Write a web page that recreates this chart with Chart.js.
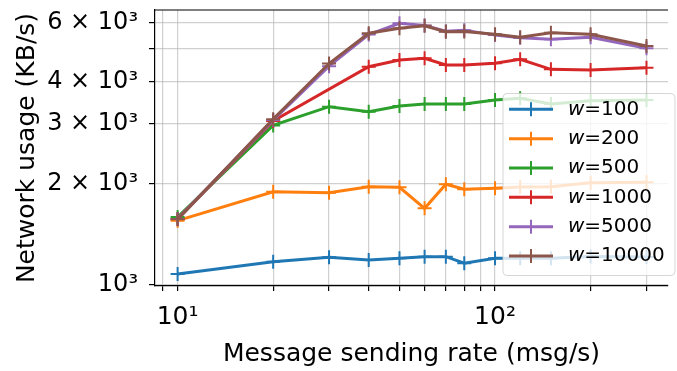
<!DOCTYPE html>
<html lang="en">
<head>
<meta charset="UTF-8">
<title>Network usage vs message sending rate</title>
<script src="https://cdn.jsdelivr.net/npm/chart.js"></script>
<style>
  html, body { margin: 0; padding: 0; background: #fff; }
  #wrap { width: 677px; height: 371px; }
</style>
</head>
<body>
<div id="wrap"><canvas id="chart" width="677" height="371"></canvas></div>
<script>
// data
const rates = [10, 20, 30, 40, 50, 60, 70, 80, 100, 120, 150, 200, 300];
const windowSizes = ['100', '200', '500', '1000', '5000', '10000'];
const colors = ['#1f77b4', '#ff7f0e', '#2ca02c', '#d62728', '#9467bd', '#8c564b'];

const w100   = [1078, 1172, 1208, 1186, 1200, 1213, 1213, 1160, 1200, 1200, 1200, 1215, 1210];
const w200   = [1551, 1890, 1877, 1955, 1947, 1687, 1988, 1921, 1934, 1950, 1955, 2010, 2015];
const w500   = [1590, 2970, 3376, 3263, 3390, 3437, 3437, 3437, 3533, 3573, 3437, 3517, 3533];
const w1000  = [1570, 3060, null, 4435, 4642, 4695, 4484, 4484, 4538, 4664, 4355, 4335, 4402];
const w5000  = [1570, 3080, 4450, 5520, 5960, 5870, 5650, 5690, 5500, 5400, 5346, 5420, 5025];
const w10000 = [1565, 3100, 4530, 5570, 5762, 5860, 5631, 5640, 5530, 5420, 5593, 5530, 5106];
const series = [w100, w200, w500, w1000, w5000, w10000];

const xTicks = [9, 10, 20, 30, 40, 50, 60, 70, 80, 90, 100, 200, 300];
const xTickLabels = { 10: '10¹', 100: '10²' };
const yTicks = [1000, 2000, 3000, 4000, 5000, 6000];
const yTickLabels = { 1000: '10³', 2000: '2 × 10³', 3000: '3 × 10³', 4000: '4 × 10³', 6000: '6 × 10³' };

const FONT = "'DejaVu Sans', sans-serif";
const gridColor = 'rgba(176,176,176,0.6)';

const datasets = series.map((vals, i) => ({
  label: 'w=' + windowSizes[i],
  data: vals,
  borderColor: colors[i],
  backgroundColor: colors[i],
  borderWidth: 3,
  pointStyle: 'cross',
  pointRadius: 7,
  pointBorderWidth: 2,
  pointBorderColor: colors[i],
  spanGaps: true,
  tension: 0,
  order: series.length - i
}));

// top spine
const frame = {
  id: 'frame',
  afterDraw(chart) {
    const { ctx, chartArea: a } = chart;
    ctx.save();
    ctx.strokeStyle = '#000';
    ctx.lineWidth = 1.2;
    ctx.beginPath();
    ctx.moveTo(a.left, a.top);
    ctx.lineTo(a.right, a.top);
    ctx.stroke();
    ctx.restore();
  }
};

// legend box inside the plot, like matplotlib
const innerLegend = {
  id: 'innerLegend',
  afterDraw(chart) {
    const ctx = chart.ctx;
    const bx = 503, by = 93.5, bw = 172, bh = 182, r = 4;
    ctx.save();
    ctx.beginPath();
    ctx.roundRect(bx, by, bw, bh, r);
    ctx.fillStyle = 'rgba(255,255,255,0.8)';
    ctx.fill();
    ctx.strokeStyle = 'rgba(204,204,204,0.8)';
    ctx.lineWidth = 1;
    ctx.stroke();
    const y0 = 109.3, step = 29.35;
    windowSizes.forEach((w, i) => {
      const y = y0 + i * step;
      ctx.strokeStyle = colors[i];
      ctx.lineWidth = 3;
      ctx.beginPath();
      ctx.moveTo(509, y); ctx.lineTo(553, y);
      ctx.stroke();
      ctx.lineWidth = 2;
      ctx.beginPath();
      ctx.moveTo(531, y - 7); ctx.lineTo(531, y + 7);
      ctx.stroke();
      ctx.fillStyle = '#000';
      ctx.textBaseline = 'middle';
      ctx.font = 'italic 20px ' + FONT;
      ctx.fillText('w', 568, y);
      const ww = ctx.measureText('w').width;
      ctx.font = '20px ' + FONT;
      ctx.fillText('=' + w, 568 + ww, y);
    });
    ctx.restore();
  }
};

new Chart(document.getElementById('chart'), {
  type: 'line',
  data: { labels: rates, datasets },
  options: {
    responsive: false,
    animation: false,
    devicePixelRatio: 1,
    layout: { padding: { top: 10, right: 0, left: 0, bottom: 0 } },
    plugins: { legend: { display: false }, tooltip: { enabled: false } },
    scales: {
      x: {
        type: 'logarithmic',
        min: 8.488,
        max: 350.7,
        afterBuildTicks: s => { s.ticks = xTicks.map(v => ({ value: v })); },
        afterFit: s => { s.height = 85; s.paddingLeft = 0; s.paddingRight = 0; },
        ticks: {
          autoSkip: false, maxRotation: 0, minRotation: 0,
          color: '#000', font: { family: FONT, size: 25 }, padding: 11,
          callback: v => xTickLabels[v] || ''
        },
        grid: { color: gridColor, lineWidth: 1.2, tickLength: 5, tickColor: '#000', tickWidth: 1.2 },
        border: { color: '#000', width: 1.2 },
        title: {
          display: true, text: 'Message sending rate (msg/s)',
          color: '#000', font: { family: FONT, size: 25 }, padding: { top: 2, bottom: 2 }
        }
      },
      y: {
        type: 'logarithmic',
        min: 993.2,
        max: 6528,
        afterBuildTicks: s => { s.ticks = yTicks.map(v => ({ value: v })); },
        afterFit: s => { s.width = 155; s.paddingTop = 0; s.paddingBottom = 0; },
        ticks: {
          autoSkip: false,
          color: '#000', font: { family: FONT, size: 24 }, padding: 11,
          callback: v => yTickLabels[v] || ''
        },
        grid: { color: gridColor, lineWidth: 1.2, tickLength: 6, tickColor: '#000', tickWidth: 1.2 },
        border: { color: '#000', width: 1.2 },
        title: {
          display: true, text: 'Network usage (KB/s)',
          color: '#000', font: { family: FONT, size: 25 }, padding: { top: 12, bottom: 0 }
        }
      }
    }
  },
  plugins: [frame, innerLegend]
});
</script>
</body>
</html>
